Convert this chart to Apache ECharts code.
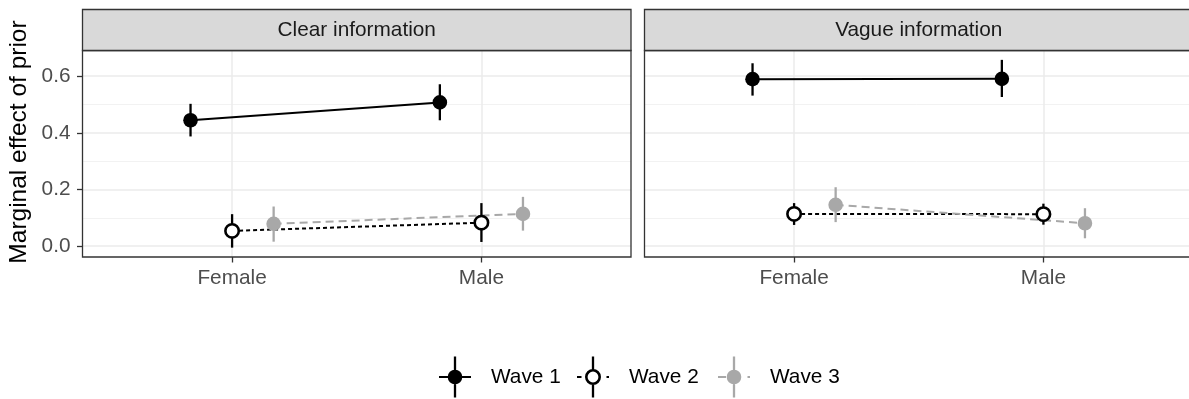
<!DOCTYPE html>
<html>
<head>
<meta charset="utf-8">
<script src="https://cdn.jsdelivr.net/npm/echarts@6/dist/echarts.min.js"></script>
<style>
html,body{margin:0;padding:0;background:#fff;}
#chart{width:1189px;height:399px;}
</style>
</head>
<body>
<div id="chart"></div>
<script>
// ---------- data ----------
const categories = ['Female', 'Male'];
const panels = ['Clear information', 'Vague information'];
const waves = ['Wave 1', 'Wave 2', 'Wave 3'];
const yTicks = [0, 0.2, 0.4, 0.6];
const yMinorTicks = [0.1, 0.3, 0.5];
const yTitle = 'Marginal effect of prior';

// each entry: [estimate, lower, upper] per category (Female, Male)
const clearWave1 = [[0.444, 0.387, 0.502], [0.507, 0.444, 0.571]];
const clearWave2 = [[0.054, -0.005, 0.113], [0.083, 0.015, 0.152]];
const clearWave3 = [[0.079, 0.016, 0.140], [0.114, 0.055, 0.174]];
const vagueWave1 = [[0.589, 0.531, 0.645], [0.590, 0.526, 0.657]];
const vagueWave2 = [[0.114, 0.075, 0.152], [0.113, 0.076, 0.150]];
const vagueWave3 = [[0.146, 0.085, 0.208], [0.081, 0.028, 0.134]];

const panelData = [
  [clearWave1, clearWave2, clearWave3],
  [vagueWave1, vagueWave2, vagueWave3]
];

// ---------- styles / layout ----------
const lineColor = ['#000000', '#000000', '#A8A8A8'];
const pointFill = ['#000000', '#FFFFFF', '#A8A8A8'];
const hollow = [false, true, false];
const dashType = ['solid', [4, 3], [8, 5]];
const dodge = [-1 / 6, 0, 1 / 6];

const Y_MIN = -0.038, Y_MAX = 0.690;
const X_MIN = 0.4;
const FONT = '"Liberation Sans", Arial, sans-serif';
const FS = 20.8;
const gridTop = 50.5, gridH = 206.5;
const stripTop = 9.5;
const gridLefts = [82.5, 644.5];
const panelW = 548.5;                 // full panel width (right one runs off the page)
const gridWs = [548.5, 1189 - 644.5]; // drawable part of each panel
const unitPx = panelW / 2.2;
const xMaxs = gridWs.map(w => X_MIN + w / unitPx);
const legendCenters = [455, 593, 734];

const legendIcons = [
  'path://M0,19.5L32,19.5L32,21.5L0,21.5Z M14.85,0L17.15,0L17.15,41L14.85,41Z M23.3,20.5A7.3,7.3,0,1,1,8.7,20.5A7.3,7.3,0,1,1,23.3,20.5Z',
  'path://M0,19.5L4.5,19.5L4.5,21.5L0,21.5Z M29.5,19.5L32,19.5L32,21.5L29.5,21.5Z M14.85,0L17.15,0L17.15,12.8L14.85,12.8Z M14.85,28.2L17.15,28.2L17.15,41L14.85,41Z M24,20.5A8,8,0,1,1,8,20.5A8,8,0,1,1,24,20.5Z M21.4,20.5A5.4,5.4,0,1,0,10.6,20.5A5.4,5.4,0,1,0,21.4,20.5Z',
  'path://M0,19.5L8,19.5L8,21.5L0,21.5Z M29.5,19.5L32,19.5L32,21.5L29.5,21.5Z M14.85,0L17.15,0L17.15,41L14.85,41Z M23.3,20.5A7.3,7.3,0,1,1,8.7,20.5A7.3,7.3,0,1,1,23.3,20.5Z'
];

const chart = echarts.init(document.getElementById('chart'), null, {renderer: 'canvas'});

const grids = gridLefts.map((l, p) => ({
  left: l, top: gridTop, width: gridWs[p], height: gridH,
  show: false, containLabel: false
}));

const xAxes = [0, 1].map(p => ({
  type: 'value', gridIndex: p, min: X_MIN, max: xMaxs[p],
  axisLine: {show: false, onZero: false},
  axisTick: {show: true, customValues: [1, 2], length: 5.5, lineStyle: {color: '#333333', width: 1.3}},
  axisLabel: {customValues: [1, 2], formatter: v => categories[Math.round(v) - 1] || '',
    fontSize: FS, color: '#4D4D4D', margin: 11, fontFamily: FONT},
  splitLine: {show: true, lineStyle: {color: '#EBEBEB', width: 1.5}}
}));

const yAxes = [];
[0, 1].forEach(p => {
  yAxes.push({
    type: 'value', gridIndex: p, min: Y_MIN, max: Y_MAX,
    axisLine: {show: false, onZero: false},
    axisTick: {show: p === 0, customValues: yTicks, length: 5.5, lineStyle: {color: '#333333', width: 1.3}},
    axisLabel: {show: p === 0, customValues: yTicks, formatter: v => v.toFixed(1),
      fontSize: FS, color: '#4D4D4D', margin: 12, fontFamily: FONT},
    splitLine: {show: true, lineStyle: {color: '#EBEBEB', width: 1.5}}
  });
});
[0, 1].forEach(p => {
  yAxes.push({
    type: 'value', gridIndex: p, min: Y_MIN, max: Y_MAX, position: 'left',
    axisLine: {show: false, onZero: false}, axisTick: {show: false, customValues: yMinorTicks},
    axisLabel: {show: false, customValues: yMinorTicks},
    splitLine: {show: true, lineStyle: {color: '#EFEFEF', width: 0.8}}
  });
});

const series = [];
panelData.forEach((pd, p) => {
  pd.forEach((wd, w) => {
    const data = wd.map((d, i) => [i + 1 + dodge[w], d[0], d[1], d[2]]);
    series.push({
      type: 'line', name: waves[w], xAxisIndex: p, yAxisIndex: p,
      data: data.map(d => [d[0], d[1]]), symbol: 'none', z: 2, silent: true,
      lineStyle: {color: lineColor[w], width: 2, type: dashType[w]},
      itemStyle: {color: lineColor[w]}
    });
  });
});
panelData.forEach((pd, p) => {
  pd.forEach((wd, w) => {
    const data = wd.map((d, i) => [i + 1 + dodge[w], d[0], d[1], d[2]]);
    series.push({
      type: 'custom', name: waves[w], xAxisIndex: p, yAxisIndex: p, z: 3, silent: true,
      data: data, encode: {x: 0, y: 1},
      itemStyle: {color: lineColor[w]},
      renderItem: (params, api) => {
        const x = api.value(0);
        const c = api.coord([x, api.value(1)]);
        const lo = api.coord([x, api.value(2)]);
        const hi = api.coord([x, api.value(3)]);
        return {
          type: 'group',
          children: [
            {type: 'line', shape: {x1: c[0], y1: lo[1], x2: c[0], y2: hi[1]},
              style: {stroke: lineColor[w], lineWidth: 2.3}},
            {type: 'circle', shape: {cx: c[0], cy: c[1], r: hollow[w] ? 6.7 : 7.3},
              style: {fill: pointFill[w], stroke: hollow[w] ? lineColor[w] : null, lineWidth: hollow[w] ? 2.6 : 0}}
          ]
        };
      }
    });
  });
});

const graphics = [];
panels.forEach((t, p) => {
  // panel border
  graphics.push({
    type: 'rect', z: 10, silent: true,
    shape: {x: gridLefts[p], y: gridTop, width: panelW, height: gridH},
    style: {fill: null, stroke: '#333333', lineWidth: 1.3}
  });
  // strip
  graphics.push({
    type: 'rect', z: 10, silent: true,
    shape: {x: gridLefts[p], y: stripTop, width: panelW, height: gridTop - stripTop},
    style: {fill: '#D9D9D9', stroke: '#333333', lineWidth: 1.3}
  });
  graphics.push({
    type: 'text', x: gridLefts[p] + panelW / 2, y: (stripTop + gridTop) / 2 + 0.5, z: 11, silent: true,
    style: {text: t, fill: '#1A1A1A', font: FS + 'px ' + FONT,
      textAlign: 'center', textVerticalAlign: 'middle'}
  });
});
graphics.push({
  type: 'text', x: 19, y: 142, rotation: Math.PI / 2, z: 11, silent: true,
  style: {text: yTitle, fill: '#000000', font: '24.5px ' + FONT,
    textAlign: 'center', textVerticalAlign: 'middle'}
});

const legends = waves.map((n, w) => ({
  left: legendCenters[w] - 16, top: 356.5, orient: 'horizontal', padding: 0,
  itemWidth: 32, itemHeight: 41, selectedMode: false,
  textStyle: {fontSize: FS, color: '#000000', fontFamily: FONT, padding: [0, 0, 0, 15]},
  data: [{name: n, icon: legendIcons[w], itemStyle: {color: lineColor[w], borderWidth: 0}}]
}));

chart.setOption({
  animation: false,
  backgroundColor: '#FFFFFF',
  grid: grids,
  xAxis: xAxes,
  yAxis: yAxes,
  series: series,
  graphic: graphics,
  legend: legends
});
</script>
</body>
</html>
